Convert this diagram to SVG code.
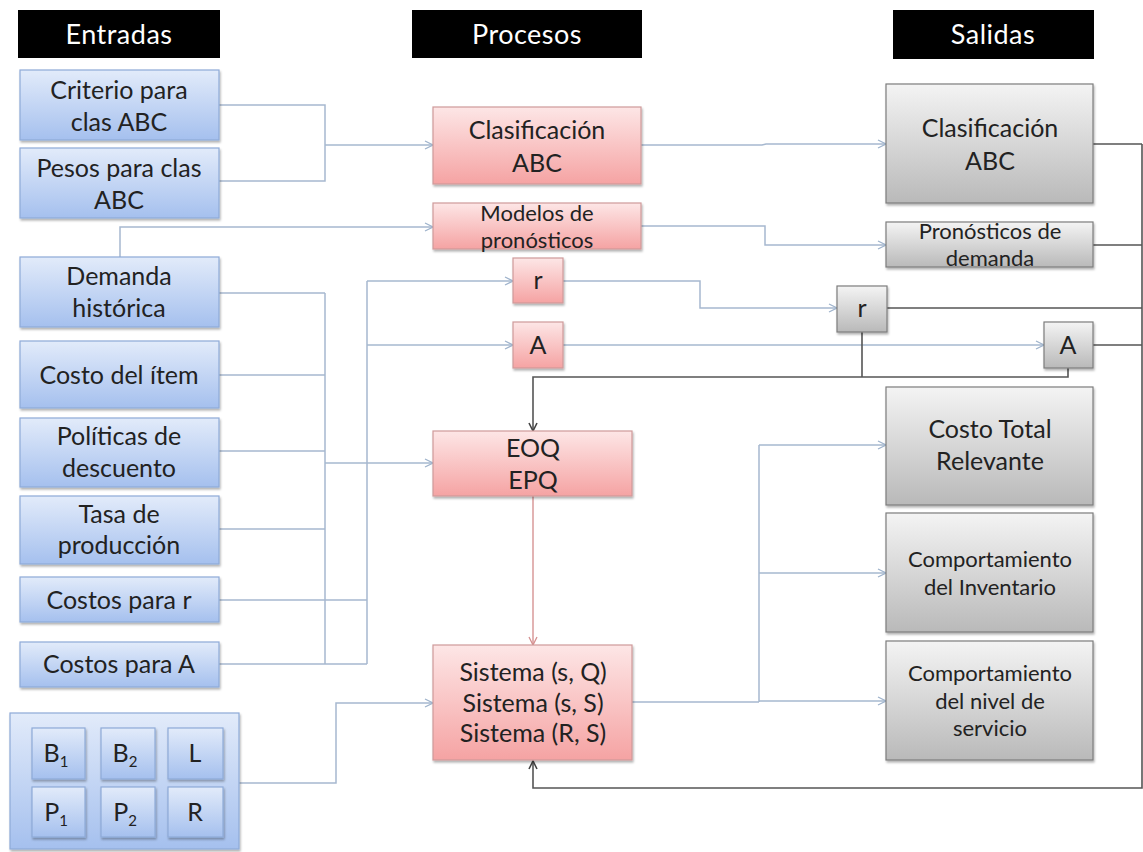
<svg xmlns="http://www.w3.org/2000/svg" width="1143" height="852" viewBox="0 0 1143 852">
<defs>
<linearGradient id="gb" x1="0" y1="0" x2="0" y2="1"><stop offset="0" stop-color="#e2ebfa"/><stop offset="1" stop-color="#a5c0ee"/></linearGradient>
<linearGradient id="gr" x1="0" y1="0" x2="0" y2="1"><stop offset="0" stop-color="#fde6e6"/><stop offset="1" stop-color="#f5a3a3"/></linearGradient>
<linearGradient id="gg" x1="0" y1="0" x2="0" y2="1"><stop offset="0" stop-color="#f4f4f4"/><stop offset="1" stop-color="#b9b9b9"/></linearGradient>
<marker id="ab" markerWidth="10" markerHeight="10" refX="9" refY="5" orient="auto" markerUnits="userSpaceOnUse"><path d="M1,1 L9,5 L1,9" fill="none" stroke="#9fb3cc" stroke-width="1.3"/></marker>
<marker id="ar" markerWidth="10" markerHeight="10" refX="9" refY="5" orient="auto" markerUnits="userSpaceOnUse"><path d="M1,1 L9,5 L1,9" fill="none" stroke="#d48f8f" stroke-width="1.3"/></marker>
<marker id="ad" markerWidth="10" markerHeight="10" refX="9" refY="5" orient="auto" markerUnits="userSpaceOnUse"><path d="M1,1 L9,5 L1,9" fill="none" stroke="#444" stroke-width="1.6"/></marker>
<filter id="sh" x="-5%" y="-5%" width="115%" height="120%"><feDropShadow dx="1" dy="2" stdDeviation="1.2" flood-color="#000" flood-opacity="0.3"/></filter>
</defs>
<style>
text{font-family:Lato,"Liberation Sans",sans-serif;fill:#222;text-anchor:middle}
.hd{fill:#000}
.ht{fill:#fff;font-size:27px;letter-spacing:0.5px}
.b{fill:url(#gb);stroke:#8eaad8;stroke-width:1.2;filter:url(#sh)}
.r{fill:url(#gr);stroke:#cf9a9a;stroke-width:1.2;filter:url(#sh)}
.g{fill:url(#gg);stroke:#7d7d7d;stroke-width:1.2;filter:url(#sh)}
.t20{font-size:25px}
.t17{font-size:22px}
.t16{font-size:22px}
.cb{fill:none;stroke:#a6b8cf;stroke-width:1.5}
.cr{fill:none;stroke:#d99a9a;stroke-width:1.5}
.cd{fill:none;stroke:#555;stroke-width:1.6}
</style>
<rect width="1143" height="852" fill="#fff"/>

<g id="headers">
<rect class="hd" x="18" y="10" width="202" height="48"/><text class="ht" x="119" y="44">Entradas</text>
<rect class="hd" x="412" y="10" width="230" height="48"/><text class="ht" x="527" y="44">Procesos</text>
<rect class="hd" x="893" y="10" width="201" height="49"/><text class="ht" x="993" y="44">Salidas</text>
</g>

<g id="connectors">
<path class="cb" d="M219,105 H325 V181 H219"/>
<path class="cb" d="M325,145 H433" marker-end="url(#ab)"/>
<path class="cb" d="M120,257 V227 H433" marker-end="url(#ab)"/>
<path class="cb" d="M219,293 H325 M219,375 H325 M219,451 H325 M219,529 H325 M219,664 H367 M325,293 V664"/>
<path class="cb" d="M325,463 H433" marker-end="url(#ab)"/>
<path class="cb" d="M219,600 H367 M367,664 V281"/>
<path class="cb" d="M367,281 H513" marker-end="url(#ab)"/>
<path class="cb" d="M367,345 H513" marker-end="url(#ab)"/>
<path class="cb" d="M641,145 H762 L766,144 H886" marker-end="url(#ab)"/>
<path class="cb" d="M641,226 H765 V245 H886" marker-end="url(#ab)"/>
<path class="cb" d="M563,281 H700 V308 H837" marker-end="url(#ab)"/>
<path class="cb" d="M563,345 H1044" marker-end="url(#ab)"/>
<path class="cd" d="M862,332 V377 M1068,368 V377 H533 V431" marker-end="url(#ad)"/>
<path class="cr" d="M533,496 V645" marker-end="url(#ar)"/>
<path class="cb" d="M239,783 H336 V703 H433" marker-end="url(#ab)"/>
<path class="cb" d="M632,702 H759 M759,445 V702"/>
<path class="cb" d="M759,445 H886" marker-end="url(#ab)"/>
<path class="cb" d="M759,573 H886" marker-end="url(#ab)"/>
<path class="cb" d="M759,701 H886" marker-end="url(#ab)"/>
<path class="cd" d="M1093,144 H1142 M1093,245 H1142 M887,308 H1142 M1093,345 H1142"/>
<path class="cd" d="M1142,144 V788 H533 V761" marker-end="url(#ad)"/>
</g>

<g id="in-criterio"><rect class="b" x="20" y="70" width="199" height="70"/><text class="t20" x="119" y="99">Criterio para</text><text class="t20" x="119" y="131">clas ABC</text></g>
<g id="in-pesos"><rect class="b" x="20" y="148" width="199" height="70"/><text class="t20" x="119" y="177">Pesos para clas</text><text class="t20" x="119" y="209">ABC</text></g>
<g id="in-demanda"><rect class="b" x="20" y="257" width="199" height="70"/><text class="t20" x="119" y="285">Demanda</text><text class="t20" x="119" y="317">histórica</text></g>
<g id="in-costo"><rect class="b" x="20" y="341" width="199" height="67"/><text class="t20" x="119" y="384">Costo del ítem</text></g>
<g id="in-politicas"><rect class="b" x="20" y="418" width="199" height="69"/><text class="t20" x="119" y="445">Políticas de</text><text class="t20" x="119" y="477">descuento</text></g>
<g id="in-tasa"><rect class="b" x="20" y="496" width="199" height="68"/><text class="t20" x="119" y="523">Tasa de</text><text class="t20" x="119" y="554">producción</text></g>
<g id="in-costos-r"><rect class="b" x="20" y="577" width="199" height="45"/><text class="t20" x="119" y="609">Costos para r</text></g>
<g id="in-costos-a"><rect class="b" x="20" y="642" width="199" height="45"/><text class="t20" x="119" y="673">Costos para A</text></g>

<g id="in-parametros">
<rect class="b" x="10" y="713" width="229" height="136"/>
<rect class="b" x="32" y="728" width="53" height="51"/><text class="t20" x="56" y="762">B<tspan font-size="15" dy="5">1</tspan></text>
<rect class="b" x="101" y="728" width="54" height="51"/><text class="t20" x="125" y="762">B<tspan font-size="15" dy="5">2</tspan></text>
<rect class="b" x="168" y="728" width="55" height="51"/><text class="t20" x="195" y="762">L</text>
<rect class="b" x="32" y="787" width="53" height="50"/><text class="t20" x="56" y="821">P<tspan font-size="15" dy="5">1</tspan></text>
<rect class="b" x="101" y="787" width="54" height="50"/><text class="t20" x="125" y="821">P<tspan font-size="15" dy="5">2</tspan></text>
<rect class="b" x="168" y="787" width="55" height="50"/><text class="t20" x="195" y="821">R</text>
</g>

<g id="p-clasificacion"><rect class="r" x="433" y="107" width="208" height="77"/><text class="t20" x="537" y="139">Clasificación</text><text class="t20" x="537" y="172">ABC</text></g>
<g id="p-modelos"><rect class="r" x="433" y="203" width="208" height="46"/><text class="t17" x="537" y="221">Modelos de</text><text class="t17" x="537" y="248">pronósticos</text></g>
<g id="p-r"><rect class="r" x="513" y="258" width="50" height="45"/><text class="t20" x="538" y="289">r</text></g>
<g id="p-a"><rect class="r" x="513" y="322" width="50" height="46"/><text class="t20" x="538" y="354">A</text></g>
<g id="p-eoq"><rect class="r" x="433" y="431" width="199" height="65"/><text class="t20" x="533" y="457">EOQ</text><text class="t20" x="533" y="489">EPQ</text></g>
<g id="p-sistema"><rect class="r" x="433" y="645" width="199" height="115"/><text class="t20" x="533" y="681">Sistema (s, Q)</text><text class="t20" x="533" y="712">Sistema (s, S)</text><text class="t20" x="533" y="742">Sistema (R, S)</text></g>

<g id="o-clasificacion"><rect class="g" x="886" y="84" width="207" height="119"/><text class="t20" x="990" y="137">Clasificación</text><text class="t20" x="990" y="170">ABC</text></g>
<g id="o-pronosticos"><rect class="g" x="886" y="222" width="207" height="45"/><text class="t16" x="990" y="239">Pronósticos de</text><text class="t16" x="990" y="266">demanda</text></g>
<g id="o-r"><rect class="g" x="837" y="286" width="50" height="46"/><text class="t20" x="862" y="317">r</text></g>
<g id="o-a"><rect class="g" x="1044" y="322" width="49" height="46"/><text class="t20" x="1068" y="354">A</text></g>
<g id="o-costo"><rect class="g" x="886" y="387" width="207" height="118"/><text class="t20" x="990" y="438">Costo Total</text><text class="t20" x="990" y="470">Relevante</text></g>
<g id="o-inventario"><rect class="g" x="886" y="513" width="207" height="119"/><text class="t16" x="990" y="567">Comportamiento</text><text class="t16" x="990" y="595">del Inventario</text></g>
<g id="o-servicio"><rect class="g" x="886" y="641" width="207" height="119"/><text class="t16" x="990" y="681">Comportamiento</text><text class="t16" x="990" y="709">del nivel de</text><text class="t16" x="990" y="736">servicio</text></g>
</svg>
